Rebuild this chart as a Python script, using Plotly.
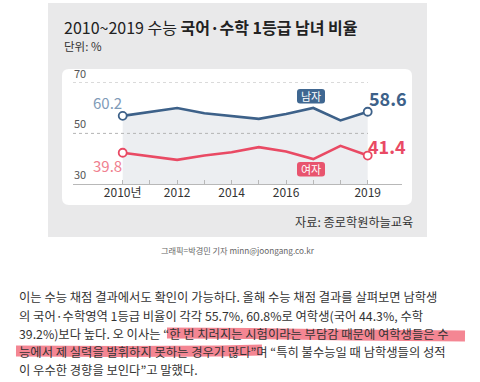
import plotly.graph_objects as go

W, H = 480, 382

# ---- data ----
years = [2010, 2011, 2012, 2013, 2014, 2015, 2016, 2017, 2018, 2019]
male = [56.9, 58.5, 60.0, 57.9, 56.9, 55.7, 57.6, 60.0, 55.1, 58.5]
female = [42.4, 41.0, 39.6, 41.3, 42.6, 44.6, 42.9, 39.9, 45.1, 41.3]
male_labels = ["60.2", "58.6"]
female_labels = ["39.8", "41.4"]
tick_vals = years
tick_text = ["2010년", "", "2012", "", "2014", "", "2016", "", "", "2019"]
y_ticks = [70, 50, 30]

title_plain = "2010~2019 수능 "
title_bold = "국어·수학 1등급 남녀 비율"
unit_text = "단위: %"
source_text = "자료: 종로학원하늘교육"
credit_text = "그래픽=박경민 기자 minn@joongang.co.kr"
article_lines = [
    "이는 수능 채점 결과에서도 확인이 가능하다. 올해 수능 채점 결과를 살펴보면 남학생",
    "의 국어·수학영역 1등급 비율이 각각 55.7%, 60.8%로 여학생(국어 44.3%, 수학",
    "39.2%)보다 높다. 오 이사는 \u201c한 번 치러지는 시험이라는 부담감 때문에 여학생들은 수",
    "능에서 제 실력을 발휘하지 못하는 경우가 많다\u201d며 \u201c특히 불수능일 때 남학생들의 성적",
    "이 우수한 경향을 보인다\u201d고 말했다.",
]

MALE_C = "#3d6189"
MALE_LIGHT = "#7f9bb8"
FEM_C = "#e94a64"
FEM_LIGHT = "#f0808f"
KR = "Noto Sans CJK KR"


def px(x):
    return x / W


def py(y):
    return 1 - y / H


def rrect(x0, y0, x1, y1, r):
    rx, ry = r / W, r / H
    X0, X1 = px(x0), px(x1)
    Y0, Y1 = py(y0), py(y1)
    return (f"M{X0+rx},{Y0} L{X1-rx},{Y0} Q{X1},{Y0} {X1},{Y0-ry} "
            f"L{X1},{Y1+ry} Q{X1},{Y1} {X1-rx},{Y1} L{X0+rx},{Y1} "
            f"Q{X0},{Y1} {X0},{Y1+ry} L{X0},{Y0-ry} Q{X0},{Y0} {X0+rx},{Y0} Z")


fig = go.Figure()

fig.add_trace(go.Scatter(x=years, y=male, mode="lines", line=dict(width=0),
                         fill="tozeroy", fillcolor="#eceef1", hoverinfo="skip",
                         showlegend=False))
fig.add_trace(go.Scatter(x=years, y=male, mode="lines",
                         line=dict(color=MALE_C, width=2.6), showlegend=False))
fig.add_trace(go.Scatter(x=years, y=female, mode="lines",
                         line=dict(color=FEM_C, width=2.6), showlegend=False))
fig.add_trace(go.Scatter(x=[years[0], years[-1]], y=[male[0], male[-1]], mode="markers",
                         marker=dict(size=8, color="white", line=dict(color=MALE_C, width=1.8)),
                         showlegend=False, cliponaxis=False))
fig.add_trace(go.Scatter(x=[years[0], years[-1]], y=[female[0], female[-1]], mode="markers",
                         marker=dict(size=8, color="white", line=dict(color=FEM_C, width=1.8)),
                         showlegend=False, cliponaxis=False))

x_lo = 2010 - (122.7 - 73) / 27.22
x_hi = 2019 + (402 - 367.7) / 27.22

fig.update_layout(
    width=W, height=H, autosize=False,
    margin=dict(l=0, r=0, t=0, b=0),
    paper_bgcolor="white", plot_bgcolor="rgba(0,0,0,0)",
    xaxis=dict(domain=[px(73), px(402)], range=[x_lo, x_hi],
               showgrid=False, zeroline=False, showline=True,
               linecolor="#b8b8b8", linewidth=1.3,
               ticks="inside", ticklen=4, tickcolor="#b8b8b8", tickwidth=1,
               tickvals=tick_vals, ticktext=tick_text, ticklabelstandoff=-3,
               tickfont=dict(family=KR, size=12, color="#333333")),
    yaxis=dict(domain=[py(184.3), py(82.5)], range=[30, 70],
               showgrid=False, zeroline=False, showticklabels=False, showline=False),
    hovermode=False,
)

shapes = []
shapes.append(dict(type="rect", xref="paper", yref="paper", x0=px(48), x1=px(427),
                   y0=py(237), y1=py(3), fillcolor="#e9e9ea", line=dict(width=0), layer="below"))
shapes.append(dict(type="path", xref="paper", yref="paper", path=rrect(62, 69, 412, 205, 7),
                   fillcolor="white", line=dict(width=0), layer="below"))
for v in [70, 50]:
    shapes.append(dict(type="line", xref="paper", yref="y", x0=px(73), x1=px(368), y0=v, y1=v,
                       line=dict(color="#b5b5b5", width=1, dash="dot"), layer="above"))
shapes.append(dict(type="path", xref="paper", yref="paper", path=rrect(297, 89, 325, 103.5, 3),
                   fillcolor="#3f6791", line=dict(width=0), layer="above"))
shapes.append(dict(type="path", xref="paper", yref="paper", path=rrect(297, 162, 325, 176.5, 3),
                   fillcolor="#e8546e", line=dict(width=0), layer="above"))


def stroke(pts):
    return "M" + " L".join(f"{px(a)},{py(b)}" for a, b in pts)


hl = "rgba(238,60,80,0.62)"
shapes.append(dict(type="path", xref="paper", yref="paper",
                   path=stroke([(167, 333), (250, 333.5), (350, 335), (465, 336)]),
                   line=dict(color=hl, width=11), layer="below"))
shapes.append(dict(type="path", xref="paper", yref="paper",
                   path=stroke([(16, 351), (120, 351.5), (220, 351), (262, 350)]),
                   line=dict(color=hl, width=11), layer="below"))
fig.update_layout(shapes=shapes)

ann = []
ann.append(dict(xref="paper", yref="paper", x=px(62), y=py(27), xanchor="left", yanchor="middle",
                text=title_plain + "<b>" + title_bold + "</b>", showarrow=False,
                font=dict(family=KR, size=16, color="#222222")))
ann.append(dict(xref="paper", yref="paper", x=px(62), y=py(45.5), xanchor="left", yanchor="middle",
                text=unit_text, showarrow=False, font=dict(family=KR, size=11.5, color="#333333")))
for v in y_ticks:
    ann.append(dict(xref="paper", yref="y", x=px(72), y=v, xanchor="left", yanchor="bottom",
                    text=str(v), showarrow=False,
                    font=dict(family=KR, size=11, color="#555555")))
ann.append(dict(xref="x", yref="y", x=years[0], y=male[0], xshift=-15, yshift=13,
                xanchor="center", yanchor="middle",
                text=male_labels[0], showarrow=False,
                font=dict(family=KR, size=15, color=MALE_LIGHT)))
ann.append(dict(xref="x", yref="y", x=years[0], y=female[0], xshift=-15, yshift=-13,
                xanchor="center", yanchor="middle",
                text=female_labels[0], showarrow=False,
                font=dict(family=KR, size=15, color=FEM_LIGHT)))
ann.append(dict(xref="x", yref="y", x=years[-1], y=male[-1], xshift=20, yshift=14,
                xanchor="center", yanchor="middle",
                text="<b>" + male_labels[1] + "</b>", showarrow=False,
                font=dict(family=KR, size=18, color=MALE_C)))
ann.append(dict(xref="x", yref="y", x=years[-1], y=female[-1], xshift=19, yshift=10,
                xanchor="center", yanchor="middle",
                text="<b>" + female_labels[1] + "</b>", showarrow=False,
                font=dict(family=KR, size=18, color=FEM_C)))
ann.append(dict(xref="paper", yref="paper", x=px(311), y=py(96.3), xanchor="center",
                yanchor="middle", text="남자", showarrow=False,
                font=dict(family=KR, size=11, color="white")))
ann.append(dict(xref="paper", yref="paper", x=px(311), y=py(169.2), xanchor="center",
                yanchor="middle", text="여자", showarrow=False,
                font=dict(family=KR, size=11, color="white")))
ann.append(dict(xref="paper", yref="paper", x=px(415), y=py(222), xanchor="right", yanchor="middle",
                text=source_text, showarrow=False, font=dict(family=KR, size=12.2, color="#333333")))
ann.append(dict(xref="paper", yref="paper", x=px(238), y=py(250), xanchor="center", yanchor="middle",
                text=credit_text, showarrow=False, font=dict(family=KR, size=8.2, color="#666666")))
line_y = [297, 315.5, 334, 352, 370]
for t, yy in zip(article_lines, line_y):
    ann.append(dict(xref="paper", yref="paper", x=px(17), y=py(yy), xanchor="left", yanchor="middle",
                    text=t, showarrow=False, font=dict(family=KR, size=12.3, color="#333333")))
fig.update_layout(annotations=ann)

fig.write_html("out.html", config={"displayModeBar": False},
               post_script="document.body.style.margin='0';")
